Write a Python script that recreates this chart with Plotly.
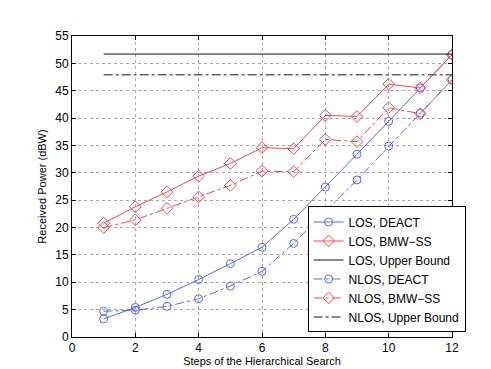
import plotly.graph_objects as go

steps = [1, 2, 3, 4, 5, 6, 7, 8, 9, 10, 11, 12]

los_deact = [3.3, 5.4, 7.8, 10.5, 13.4, 16.4, 21.5, 27.4, 33.4, 39.4, 45.5, 51.6]
los_bmw = [20.8, 23.8, 26.5, 29.4, 31.7, 34.6, 34.4, 40.5, 40.3, 46.2, 45.5, 51.6]
nlos_deact = [4.7, 4.9, 5.6, 7.0, 9.3, 12.0, 17.1, 23.0, 28.7, 34.9, 40.9, 47.0]
nlos_bmw = [20.0, 21.4, 23.5, 25.6, 27.7, 30.3, 30.2, 36.1, 35.7, 41.9, 40.8, 47.0]

bound_steps = [1, 12]
los_bound = [51.7, 51.7]
nlos_bound = [47.9, 47.9]

blue = 'rgb(85,105,255)'
red = 'rgb(255,70,70)'

fig = go.Figure()

fig.add_trace(go.Scatter(x=steps, y=los_deact, name='LOS, DEACT', mode='lines+markers',
                         line=dict(color=blue, width=1),
                         marker=dict(symbol='circle-open', size=8, color=blue, line=dict(width=1))))
fig.add_trace(go.Scatter(x=steps, y=los_bmw, name='LOS, BMW\u2212SS', mode='lines+markers',
                         line=dict(color=red, width=1),
                         marker=dict(symbol='diamond-open', size=9, color=red, line=dict(width=1))))
fig.add_trace(go.Scatter(x=bound_steps, y=los_bound, name='LOS, Upper Bound', mode='lines',
                         line=dict(color='rgb(20,20,20)', width=1)))
fig.add_trace(go.Scatter(x=steps, y=nlos_deact, name='NLOS, DEACT', mode='lines+markers',
                         line=dict(color=blue, width=1, dash='dashdot'),
                         marker=dict(symbol='circle-open', size=8, color=blue, line=dict(width=1))))
fig.add_trace(go.Scatter(x=steps, y=nlos_bmw, name='NLOS, BMW\u2212SS', mode='lines+markers',
                         line=dict(color=red, width=1, dash='dashdot'),
                         marker=dict(symbol='diamond-open', size=9, color=red, line=dict(width=1))))
fig.add_trace(go.Scatter(x=bound_steps, y=nlos_bound, name='NLOS, Upper Bound', mode='lines',
                         line=dict(color='rgb(100,100,100)', width=1.5, dash='dashdot')))

axis_style = dict(
    showline=True, linecolor='black', linewidth=1, mirror='ticks',
    ticks='inside', ticklen=4, tickcolor='black',
    showgrid=True, gridcolor='rgb(170,170,170)', griddash='dot', gridwidth=1,
    zeroline=False, tickfont=dict(size=12, color='black'),
)

fig.update_xaxes(range=[0, 12], tickvals=[0, 2, 4, 6, 8, 10, 12],
                 title=dict(text='Steps of the Hierarchical Search', font=dict(size=11), standoff=2),
                 **axis_style)
fig.update_yaxes(range=[0, 55], tickvals=list(range(0, 56, 5)),
                 title=dict(text='Received Power (dBW)', font=dict(size=11), standoff=6),
                 **axis_style)

fig.update_layout(
    width=491, height=369,
    margin=dict(l=64, r=47, t=28, b=40),
    paper_bgcolor='white', plot_bgcolor='white',
    font=dict(family='Liberation Sans, Arial, sans-serif', color='black'),
    showlegend=True,
    legend=dict(x=0.62, y=0.015, xanchor='left', yanchor='bottom',
                bgcolor='white', bordercolor='black', borderwidth=1,
                font=dict(size=12), tracegroupgap=0, itemwidth=30),
)

fig.write_html("out.html")
